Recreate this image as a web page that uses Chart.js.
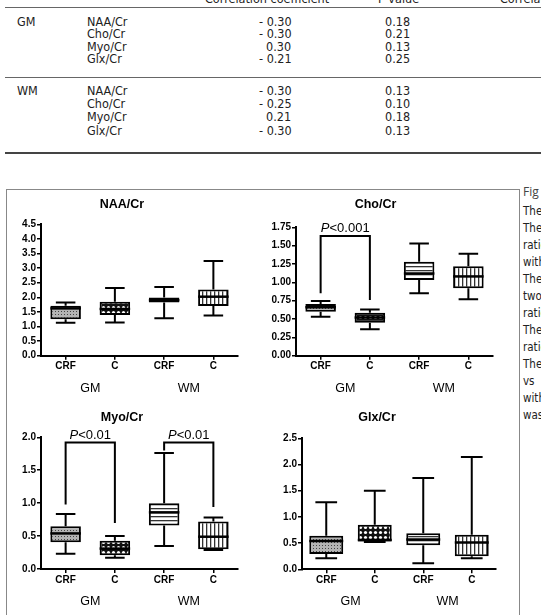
<!DOCTYPE html>
<html>
<head>
<meta charset="utf-8">
<script src="https://cdn.jsdelivr.net/npm/chart.js@4"></script>
<style>
body{margin:0;background:#fff;width:541px;height:615px;overflow:hidden;position:relative;font-family:'Liberation Sans',Arial,sans-serif}
.rule{position:absolute;left:5px;width:536px;height:1px;background:#666}
.tbl{position:absolute;font-family:'Liberation Sans Narrow','DejaVu Sans Condensed',sans-serif;font-size:12.5px;line-height:13px;color:#222;white-space:nowrap}
#frame{position:absolute;left:6px;top:189px;width:512px;height:450px;border:1px solid #888}
#caption{position:absolute;left:522px;top:183px;width:19px;height:240px;overflow:hidden;font-family:'Liberation Sans Narrow','DejaVu Sans Condensed',sans-serif;font-size:11.5px;color:#222;white-space:nowrap}
#caption div{position:absolute;left:1px}
canvas{position:absolute}
</style>
</head>
<body>
<div class="tbl" style="left:205px;top:-8px">Correlation coefficient</div>
<div class="tbl" style="left:378px;top:-8px">P value</div>
<div class="tbl" style="left:500px;top:-8px">Correlation</div>
<div class="rule" style="top:7px"></div>

<div class="tbl" style="left:17px;top:15px">GM</div>
<div class="tbl" style="left:87px;top:15px">NAA/Cr</div>
<div class="tbl" style="left:87px;top:27px">Cho/Cr</div>
<div class="tbl" style="left:87px;top:40px">Myo/Cr</div>
<div class="tbl" style="left:87px;top:52px">Glx/Cr</div>
<div class="tbl" style="left:259px;top:15px">- 0.30</div>
<div class="tbl" style="left:259px;top:27px">- 0.30</div>
<div class="tbl" style="left:266px;top:40px">0.30</div>
<div class="tbl" style="left:259px;top:52px">- 0.21</div>
<div class="tbl" style="left:385px;top:15px">0.18</div>
<div class="tbl" style="left:385px;top:27px">0.21</div>
<div class="tbl" style="left:385px;top:40px">0.13</div>
<div class="tbl" style="left:385px;top:52px">0.25</div>
<div class="rule" style="top:77px"></div>

<div class="tbl" style="left:17px;top:84px">WM</div>
<div class="tbl" style="left:87px;top:84px">NAA/Cr</div>
<div class="tbl" style="left:87px;top:97px">Cho/Cr</div>
<div class="tbl" style="left:87px;top:110px">Myo/Cr</div>
<div class="tbl" style="left:87px;top:124px">Glx/Cr</div>
<div class="tbl" style="left:259px;top:84px">- 0.30</div>
<div class="tbl" style="left:259px;top:97px">- 0.25</div>
<div class="tbl" style="left:266px;top:110px">0.21</div>
<div class="tbl" style="left:259px;top:124px">- 0.30</div>
<div class="tbl" style="left:385px;top:84px">0.13</div>
<div class="tbl" style="left:385px;top:97px">0.10</div>
<div class="tbl" style="left:385px;top:110px">0.18</div>
<div class="tbl" style="left:385px;top:124px">0.13</div>
<div class="rule" style="top:152px;height:2px;background:#444"></div>

<div id="frame"></div>
<div id="caption">
  <div style="top:0px;font-size:12px;font-family:'Open Sans',sans-serif;color:#444">Fig</div>
  <div style="top:21px">The</div>
  <div style="top:38px">The</div>
  <div style="top:55px">ratio</div>
  <div style="top:72px">with</div>
  <div style="top:89px">The</div>
  <div style="top:106px">two</div>
  <div style="top:123px">ratio</div>
  <div style="top:140px">The</div>
  <div style="top:157px">ratio</div>
  <div style="top:174px">The</div>
  <div style="top:191px">vs</div>
  <div style="top:208px">with</div>
  <div style="top:225px">was</div>
</div>

<canvas id="naa" width="250" height="210" style="left:6px;top:190px"></canvas>
<canvas id="cho" width="250" height="210" style="left:258px;top:190px"></canvas>
<canvas id="myo" width="250" height="215" style="left:6px;top:400px"></canvas>
<canvas id="glx" width="250" height="215" style="left:258px;top:400px"></canvas>

<script>
// groups on the x axis
const categories = ['CRF', 'C', 'CRF', 'C'];
const regions = ['GM', 'WM'];

// NAA/Cr  (GM CRF, GM C, WM CRF, WM C)
const naaMin = [1.13, 1.14, 1.28, 1.38];
const naaQ1 = [1.25, 1.39, 1.82, 1.70];
const naaMed = [1.62, 1.60, 1.90, 2.02];
const naaQ3 = [1.71, 1.85, 1.99, 2.27];
const naaMax = [1.82, 2.32, 2.35, 3.24];
const naaTicks = [0, 0.5, 1, 1.5, 2, 2.5, 3, 3.5, 4, 4.5];

// Cho/Cr
const choMin = [0.53, 0.36, 0.85, 0.77];
const choQ1 = [0.60, 0.45, 1.03, 0.92];
const choMed = [0.66, 0.52, 1.12, 1.08];
const choQ3 = [0.705, 0.585, 1.28, 1.22];
const choMax = [0.745, 0.63, 1.53, 1.39];
const choTicks = [0, 0.25, 0.5, 0.75, 1, 1.25, 1.5, 1.75];
const choSig = [{from: 0, to: 1, top: 1.63, left: 0.85, right: 0.76, p: '<0.001'}];

// Myo/Cr
const myoMin = [0.23, 0.17, 0.35, 0.29];
const myoQ1 = [0.405, 0.21, 0.66, 0.30];
const myoMed = [0.54, 0.31, 0.86, 0.49];
const myoQ3 = [0.65, 0.43, 1.0, 0.72];
const myoMax = [0.835, 0.50, 1.76, 0.78];
const myoTicks = [0, 0.5, 1, 1.5, 2];
const myoSig = [
    {from: 0, to: 1, top: 1.92, left: 0.98, right: 0.70, p: '<0.01'},
    {from: 2, to: 3, top: 1.92, left: 1.80, right: 0.94, p: '<0.01'}
];

// Glx/Cr
const glxMin = [0.21, 0.52, 0.115, 0.21];
const glxQ1 = [0.29, 0.53, 0.46, 0.25];
const glxMed = [0.54, 0.56, 0.57, 0.51];
const glxQ3 = [0.64, 0.85, 0.69, 0.66];
const glxMax = [1.28, 1.50, 1.74, 2.14];
const glxTicks = [0, 0.5, 1, 1.5, 2, 2.5];

Chart.defaults.font.family = "'Liberation Sans', Arial, sans-serif";
Chart.defaults.color = '#000';

function makePattern(w, h, draw) {
    const c = document.createElement('canvas');
    c.width = w; c.height = h;
    const g = c.getContext('2d');
    draw(g);
    return g.createPattern(c, 'repeat');
}

const dotFill = makePattern(3, 3, g => {
    g.fillStyle = '#b4b4b4'; g.fillRect(0, 0, 3, 3);
    g.fillStyle = '#444'; g.fillRect(1, 1, 1, 1);
});
const checkFill = makePattern(5, 5, g => {
    g.fillStyle = '#111'; g.fillRect(0, 0, 5, 5);
    g.fillStyle = '#fff'; g.beginPath(); g.arc(2.5, 2.5, 1.6, 0, Math.PI * 2); g.fill();
});
const hStripeFill = makePattern(4, 4, g => {
    g.fillStyle = '#fff'; g.fillRect(0, 0, 4, 4);
    g.fillStyle = '#333'; g.fillRect(0, 0, 4, 1.3);
});
const vStripeFill = makePattern(4, 4, g => {
    g.fillStyle = '#fff'; g.fillRect(0, 0, 4, 4);
    g.fillStyle = '#333'; g.fillRect(0, 0, 1.3, 4);
});
const boxFills = [dotFill, checkFill, hStripeFill, vStripeFill];

// whiskers, caps, medians and the P brackets, placed through the scales
function boxParts(mins, meds, maxs, q1, q3, sig) {
    return {
        id: 'boxParts',
        afterDatasetsDraw(chart) {
            const ctx = chart.ctx, y = chart.scales.y;
            const bars = chart.getDatasetMeta(0).data;
            ctx.save();
            ctx.strokeStyle = '#000';
            ctx.lineWidth = 2;
            ctx.lineCap = 'butt';
            bars.forEach((bar, i) => {
                const cx = bar.x, half = bar.width / 2, cap = bar.width * 0.32;
                const yMax = y.getPixelForValue(maxs[i]), yMin = y.getPixelForValue(mins[i]);
                const yTop = y.getPixelForValue(q3[i]), yBot = y.getPixelForValue(q1[i]);
                ctx.beginPath();
                ctx.moveTo(cx, yTop); ctx.lineTo(cx, yMax);
                ctx.moveTo(cx - cap, yMax); ctx.lineTo(cx + cap, yMax);
                ctx.moveTo(cx, yBot); ctx.lineTo(cx, yMin);
                ctx.moveTo(cx - cap, yMin); ctx.lineTo(cx + cap, yMin);
                ctx.stroke();
                ctx.lineWidth = 2.5;
                ctx.beginPath();
                const ym = y.getPixelForValue(meds[i]);
                ctx.moveTo(cx - half, ym); ctx.lineTo(cx + half, ym);
                ctx.stroke();
                ctx.lineWidth = 2;
            });
            (sig || []).forEach(s => {
                const x1 = bars[s.from].x, x2 = bars[s.to].x;
                const yt = y.getPixelForValue(s.top);
                ctx.beginPath();
                ctx.moveTo(x1, y.getPixelForValue(s.left));
                ctx.lineTo(x1, yt);
                ctx.lineTo(x2, yt);
                ctx.lineTo(x2, y.getPixelForValue(s.right));
                ctx.stroke();
                ctx.fillStyle = '#000';
                ctx.textBaseline = 'alphabetic';
                ctx.font = "italic 13px 'Liberation Sans', Arial, sans-serif";
                const wP = ctx.measureText('P').width;
                ctx.font = "13px 'Liberation Sans', Arial, sans-serif";
                const wRest = ctx.measureText(s.p).width;
                const start = (x1 + x2) / 2 - (wP + wRest) / 2;
                ctx.font = "italic 13px 'Liberation Sans', Arial, sans-serif";
                ctx.fillText('P', start, yt - 4);
                ctx.font = "13px 'Liberation Sans', Arial, sans-serif";
                ctx.fillText(s.p, start + wP, yt - 4);
            });
            ctx.restore();
        }
    };
}

function panel(id, title, ticks, digits, mins, q1, meds, q3, maxs, sig, fit) {
    new Chart(document.getElementById(id), {
        type: 'bar',
        data: {
            labels: categories,
            datasets: [{
                data: q1.map((v, i) => [v, q3[i]]),
                backgroundColor: boxFills,
                borderColor: '#000',
                borderWidth: 2,
                borderSkipped: false,
                barPercentage: fit.bar,
                categoryPercentage: 1
            }]
        },
        options: {
            responsive: false,
            animation: false,
            layout: {padding: {left: 0, right: fit.right, top: 0, bottom: 0}},
            plugins: {
                legend: {display: false},
                tooltip: {enabled: false},
                title: {
                    display: true,
                    text: title,
                    color: '#000',
                    font: {size: 12.5, weight: 'bold', lineHeight: 1},
                    padding: {top: fit.tTop, bottom: fit.tBottom}
                }
            },
            scales: {
                x: {
                    weight: 0,
                    offset: true,
                    grid: {offset: false, drawOnChartArea: false, drawTicks: true, tickLength: 4, color: '#000', lineWidth: 1.5},
                    border: {color: '#000', width: 2},
                    ticks: {font: {size: 10, weight: 'bold'}, padding: 1, maxRotation: 0},
                    afterFit: s => { s.height = fit.x1; }
                },
                x2: {
                    type: 'category',
                    axis: 'x',
                    position: 'bottom',
                    weight: 1,
                    labels: regions,
                    offset: true,
                    grid: {display: false, drawTicks: false},
                    border: {display: false},
                    ticks: {font: {size: 12.5}, padding: 5, maxRotation: 0},
                    afterFit: s => { s.height = fit.x2; }
                },
                y: {
                    min: 0,
                    max: ticks[ticks.length - 1],
                    grid: {drawOnChartArea: false, drawTicks: true, tickLength: 4, color: '#000', lineWidth: 1.5},
                    border: {color: '#000', width: 2},
                    afterBuildTicks: s => { s.ticks = ticks.map(v => ({value: v})); },
                    ticks: {
                        autoSkip: false,
                        font: {size: 10, weight: 'bold'},
                        padding: 1,
                        callback: v => Number(v).toFixed(digits)
                    },
                    afterFit: s => { s.width = fit.yw; }
                }
            }
        },
        plugins: [boxParts(mins, meds, maxs, q1, q3, sig)]
    });
}

panel('naa', 'NAA/Cr', naaTicks, 1, naaMin, naaQ1, naaMed, naaQ3, naaMax, [],
    {bar: 0.62, right: 18, tTop: 8.75, tBottom: 13, x1: 20, x2: 24.3, yw: 35});
panel('cho', 'Cho/Cr', choTicks, 2, choMin, choQ1, choMed, choQ3, choMax, choSig,
    {bar: 0.62, right: 15, tTop: 8.75, tBottom: 16, x1: 20, x2: 24.3, yw: 38});
panel('myo', 'Myo/Cr', myoTicks, 1, myoMin, myoQ1, myoMed, myoQ3, myoMax, myoSig,
    {bar: 0.62, right: 18, tTop: 11.75, tBottom: 13, x1: 20, x2: 26, yw: 35});
panel('glx', 'Glx/Cr', glxTicks, 1, glxMin, glxQ1, glxMed, glxQ3, glxMax, [],
    {bar: 0.7, right: 12, tTop: 11.75, tBottom: 14, x1: 20, x2: 25.7, yw: 44});
</script>
</body>
</html>
